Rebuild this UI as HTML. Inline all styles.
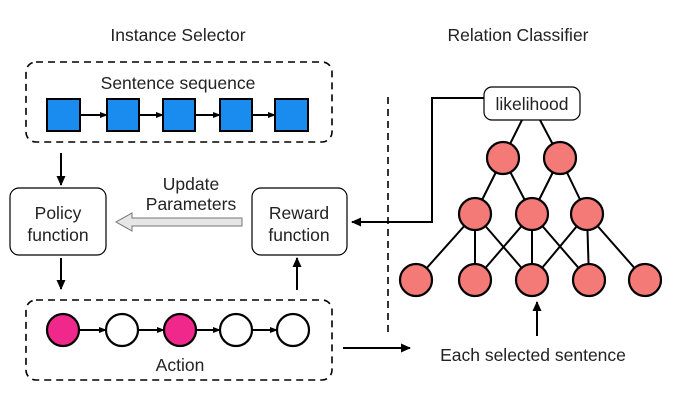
<!DOCTYPE html>
<html><head><meta charset="utf-8"><style>body{margin:0;background:#fff}svg{display:block}</style></head><body>
<svg width="674" height="404" viewBox="0 0 674 404" xmlns="http://www.w3.org/2000/svg" font-family="Liberation Sans, sans-serif" fill="none">
<defs><marker id="a" markerWidth="10" markerHeight="10" refX="9" refY="5" orient="auto" markerUnits="userSpaceOnUse"><path d="M0,0.5 L10,5 L0,9.5z" fill="#000"/></marker>
<marker id="s" markerWidth="8" markerHeight="8" refX="7" refY="4" orient="auto" markerUnits="userSpaceOnUse"><path d="M0,1 L8,4 L0,7z" fill="#000"/></marker></defs>
<g fill="#222" font-size="17.5" text-anchor="middle">
<text x="178" y="41">Instance Selector</text><text x="518" y="41">Relation Classifier</text>
<text x="178" y="89">Sentence sequence</text>
<text x="58" y="219">Policy</text><text x="58" y="241">function</text>
<text x="299" y="219">Reward</text><text x="299" y="241">function</text>
<text x="191" y="190">Update</text><text x="191" y="210">Parameters</text>
<text x="180" y="371">Action</text>
<text x="533" y="361">Each selected sentence</text>
<text x="532" y="110">likelihood</text>
</g>
<g stroke="#000" stroke-width="1.6" stroke-dasharray="7,5"><rect x="26" y="62" width="306" height="80" rx="10"/><rect x="26" y="300" width="306" height="80" rx="10"/><line x1="388" y1="97" x2="388" y2="335"/></g>
<rect x="10" y="188" width="96" height="67" rx="9" stroke="#000" stroke-width="1.2"/>
<rect x="252" y="188" width="95" height="67" rx="9" stroke="#000" stroke-width="1.2"/>
<rect x="484" y="87" width="96" height="33" rx="8" stroke="#000" stroke-width="1.2"/>
<g stroke="#000" stroke-width="2">
<line x1="80" y1="115" x2="107" y2="115" marker-end="url(#s)"/><line x1="139" y1="115" x2="163" y2="115" marker-end="url(#s)"/><line x1="195" y1="115" x2="220" y2="115" marker-end="url(#s)"/><line x1="252" y1="115" x2="275" y2="115" marker-end="url(#s)"/>
<line x1="79" y1="330" x2="106" y2="330" marker-end="url(#s)"/><line x1="138" y1="330" x2="164" y2="330" marker-end="url(#s)"/><line x1="196" y1="330" x2="220" y2="330" marker-end="url(#s)"/><line x1="252" y1="330" x2="277" y2="330" marker-end="url(#s)"/>
<line x1="61" y1="153" x2="61" y2="185" marker-end="url(#a)"/><line x1="61" y1="258" x2="61" y2="289" marker-end="url(#a)"/><line x1="297" y1="290" x2="297" y2="258" marker-end="url(#a)"/>
<polyline points="484,98 432,98 432,222 352,222" marker-end="url(#a)"/>
<line x1="343" y1="348" x2="410" y2="348" marker-end="url(#a)"/>
<line x1="537" y1="336" x2="537" y2="302" marker-end="url(#a)"/>
</g>
<path d="M242,218 L132,218 L132,213 L116,222 L132,231 L132,226 L242,226z" fill="#e6e6e6" stroke="#777" stroke-width="1"/>
<g fill="#1a8cf0" stroke="#000" stroke-width="2">
<rect x="47" y="99" width="33" height="32"/><rect x="107" y="99" width="32" height="32"/><rect x="163" y="99" width="32" height="32"/><rect x="220" y="99" width="32" height="32"/><rect x="275" y="99" width="33" height="32"/></g>
<g stroke="#000" stroke-width="2.2"><circle cx="63" cy="330" r="16" fill="#f0288c"/><circle cx="122" cy="330" r="16" fill="#fff"/><circle cx="180" cy="330" r="16" fill="#f0288c"/><circle cx="236" cy="330" r="16" fill="#fff"/><circle cx="293" cy="330" r="16" fill="#fff"/></g>
<g stroke="#000" stroke-width="2">
<line x1="522" y1="120" x2="503" y2="158"/><line x1="540" y1="120" x2="560" y2="158"/>
<line x1="503" y1="158" x2="475" y2="214"/><line x1="503" y1="158" x2="532" y2="214"/><line x1="560" y1="158" x2="532" y2="214"/><line x1="560" y1="158" x2="587" y2="214"/>
<line x1="475" y1="214" x2="416" y2="280"/><line x1="475" y1="214" x2="475" y2="280"/><line x1="475" y1="214" x2="532" y2="280"/>
<line x1="532" y1="214" x2="475" y2="280"/><line x1="532" y1="214" x2="532" y2="280"/><line x1="532" y1="214" x2="589" y2="280"/>
<line x1="587" y1="214" x2="532" y2="280"/><line x1="587" y1="214" x2="589" y2="280"/><line x1="587" y1="214" x2="645" y2="280"/>
</g>
<g fill="#f47a78" stroke="#000" stroke-width="2.2">
<circle cx="503" cy="158" r="16"/><circle cx="560" cy="158" r="16"/>
<circle cx="475" cy="214" r="16"/><circle cx="532" cy="214" r="16"/><circle cx="587" cy="214" r="16"/>
<circle cx="416" cy="280" r="16"/><circle cx="475" cy="280" r="16"/><circle cx="532" cy="280" r="16"/><circle cx="589" cy="280" r="16"/><circle cx="645" cy="280" r="16"/>
</g>
</svg>
</body></html>
